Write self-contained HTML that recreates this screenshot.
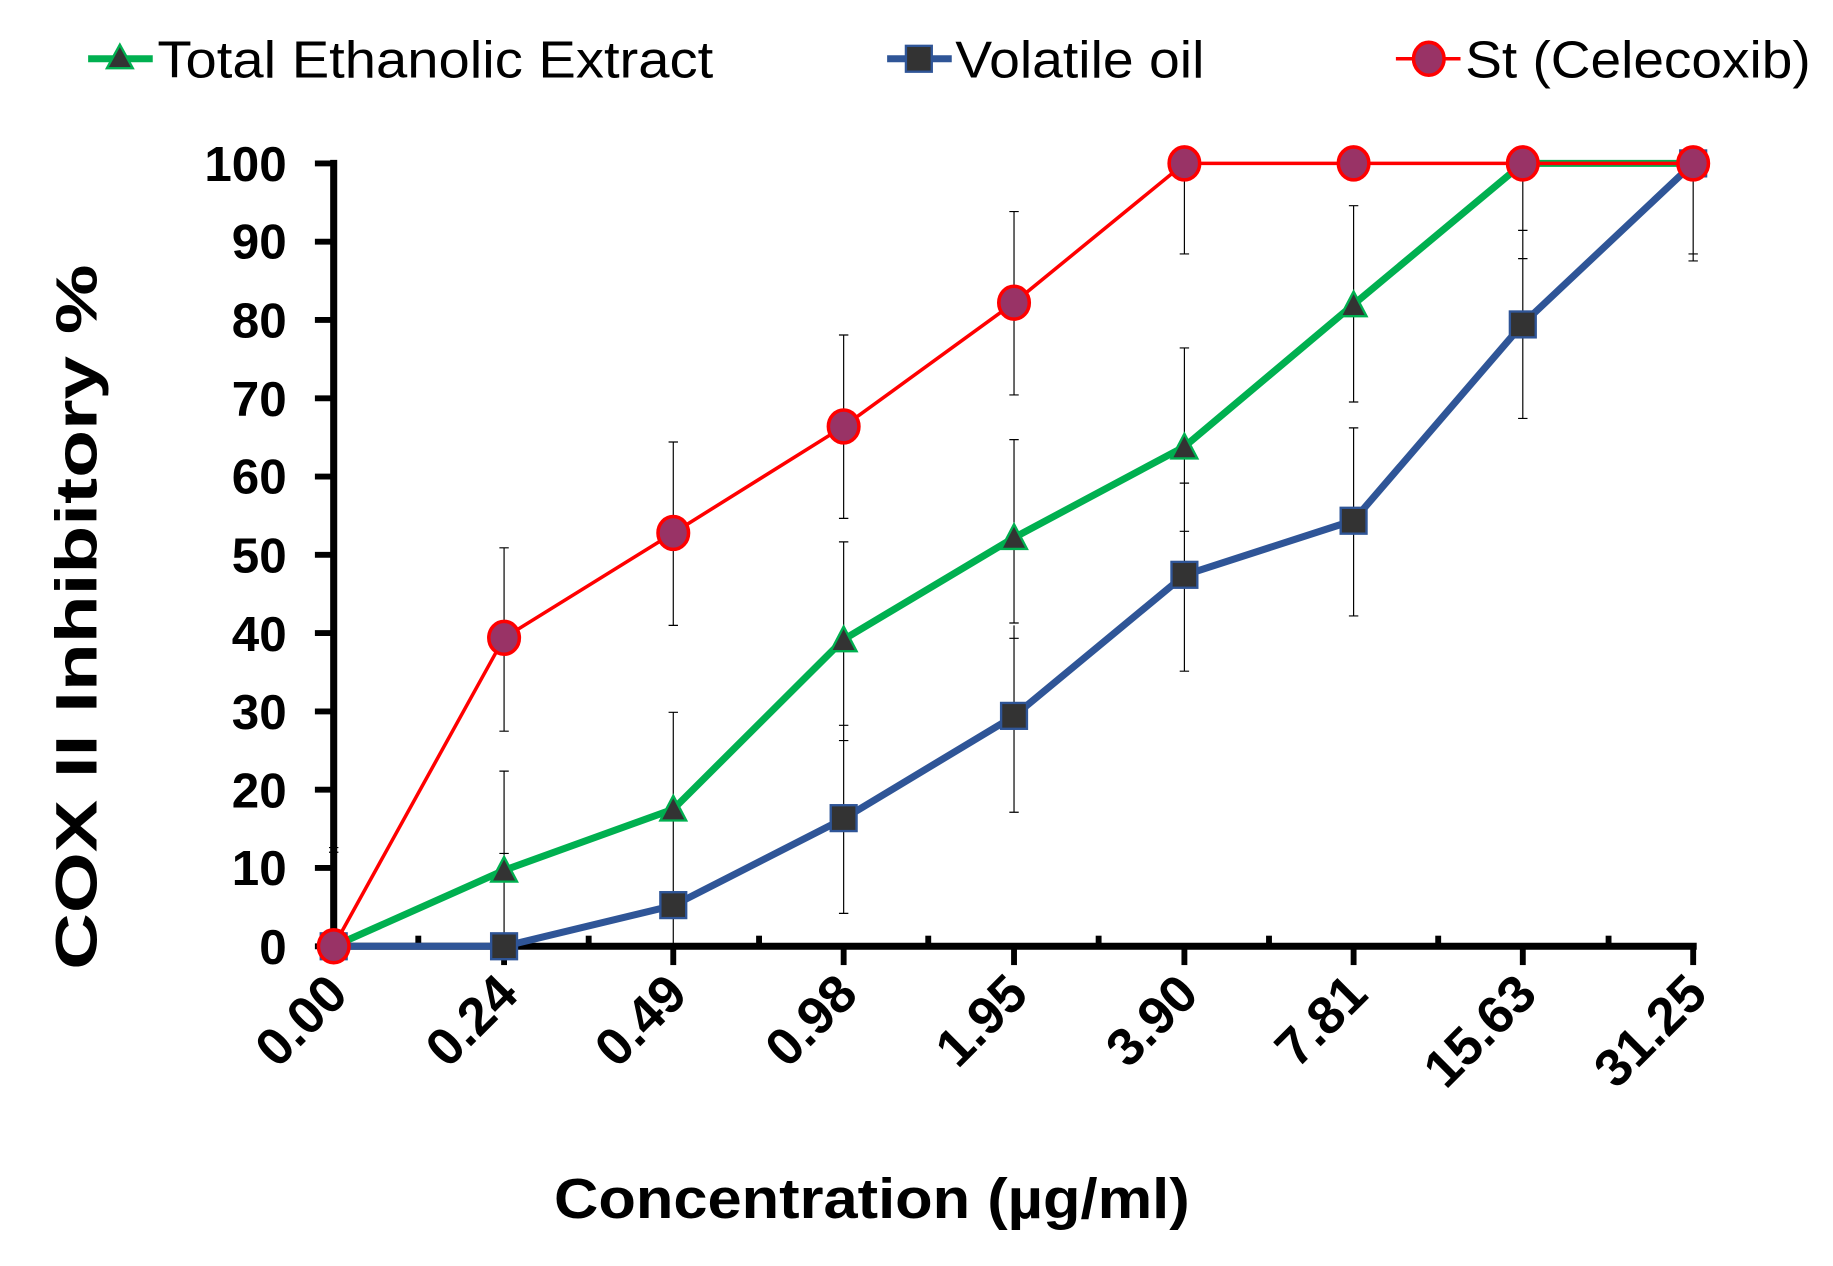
<!DOCTYPE html>
<html><head><meta charset="utf-8"><style>html,body{margin:0;padding:0;background:#fff}svg{display:block}</style></head>
<body>
<svg width="1833" height="1266" viewBox="0 0 1560 1077" preserveAspectRatio="none" xmlns="http://www.w3.org/2000/svg" font-family="Liberation Sans, Arial, sans-serif">
<rect width="1560" height="1077" fill="#fff"/>
<g font-size="44">
<line x1="75" y1="50" x2="130" y2="50" stroke="#00b050" stroke-width="6"/>
<polygon points="102,38 113,58 91,58" fill="#333" stroke="#00b050" stroke-width="2"/>
<text x="134" y="66" textLength="473" lengthAdjust="spacingAndGlyphs">Total Ethanolic Extract</text>
<line x1="755" y1="50" x2="810" y2="50" stroke="#2f5597" stroke-width="6"/>
<rect x="771" y="39" width="22" height="22" fill="#333" stroke="#2f5597" stroke-width="2"/>
<text x="813" y="66" textLength="212" lengthAdjust="spacingAndGlyphs">Volatile oil</text>
<line x1="1188" y1="50" x2="1243" y2="50" stroke="#ff0000" stroke-width="3"/>
<ellipse cx="1216" cy="50" rx="13" ry="14" fill="#993366" stroke="#ff0000" stroke-width="3"/>
<text x="1247" y="66" textLength="294" lengthAdjust="spacingAndGlyphs">St (Celecoxib)</text>
</g>
<g stroke="#000">
<line x1="284" y1="136" x2="284" y2="808" stroke-width="6"/>
<line x1="281" y1="805" x2="1444" y2="805" stroke-width="6"/>
<g stroke-width="5">
<line x1="268" y1="139" x2="284" y2="139"/><line x1="268" y1="205.6" x2="284" y2="205.6"/><line x1="268" y1="272.2" x2="284" y2="272.2"/><line x1="268" y1="338.8" x2="284" y2="338.8"/><line x1="268" y1="405.4" x2="284" y2="405.4"/><line x1="268" y1="472" x2="284" y2="472"/><line x1="268" y1="538.6" x2="284" y2="538.6"/><line x1="268" y1="605.2" x2="284" y2="605.2"/><line x1="268" y1="671.8" x2="284" y2="671.8"/><line x1="268" y1="738.4" x2="284" y2="738.4"/><line x1="268" y1="805" x2="284" y2="805"/>
<line x1="429" y1="805" x2="429" y2="821"/><line x1="573" y1="805" x2="573" y2="821"/><line x1="718" y1="805" x2="718" y2="821"/><line x1="863" y1="805" x2="863" y2="821"/><line x1="1008" y1="805" x2="1008" y2="821"/><line x1="1152" y1="805" x2="1152" y2="821"/><line x1="1296" y1="805" x2="1296" y2="821"/><line x1="1441" y1="805" x2="1441" y2="821"/>
<line x1="356" y1="796" x2="356" y2="805"/><line x1="501" y1="796" x2="501" y2="805"/><line x1="646" y1="796" x2="646" y2="805"/><line x1="790" y1="796" x2="790" y2="805"/><line x1="935" y1="796" x2="935" y2="805"/><line x1="1080" y1="796" x2="1080" y2="805"/><line x1="1224" y1="796" x2="1224" y2="805"/><line x1="1369" y1="796" x2="1369" y2="805"/>
</g>
</g>
<g font-size="42" font-weight="bold" text-anchor="end">
<text x="244" y="154">100</text><text x="244" y="220">90</text><text x="244" y="287">80</text><text x="244" y="354">70</text><text x="244" y="420">60</text><text x="244" y="487">50</text><text x="244" y="554">40</text><text x="244" y="620">30</text><text x="244" y="687">20</text><text x="244" y="753">10</text><text x="244" y="820">0</text>
</g>
<g font-size="45" font-weight="bold" text-anchor="end">
<text transform="translate(298,848) rotate(-45)">0.00</text>
<text transform="translate(443,848) rotate(-45)">0.24</text>
<text transform="translate(587,848) rotate(-45)">0.49</text>
<text transform="translate(732,848) rotate(-45)">0.98</text>
<text transform="translate(877,848) rotate(-45)">1.95</text>
<text transform="translate(1022,848) rotate(-45)">3.90</text>
<text transform="translate(1166,848) rotate(-45)">7.81</text>
<text transform="translate(1310,848) rotate(-45)">15.63</text>
<text transform="translate(1455,848) rotate(-45)">31.25</text>
</g>
<text x="742" y="1036" font-size="48" font-weight="bold" text-anchor="middle" textLength="541" lengthAdjust="spacingAndGlyphs">Concentration (µg/ml)</text>
<text transform="translate(82,525) rotate(-90)" font-size="50" font-weight="bold" text-anchor="middle" textLength="600" lengthAdjust="spacingAndGlyphs">COX II Inhibitory %</text>
<g stroke="#000" stroke-width="1">
<path d="M284,721V805M280,721H288M280,725H288
M429,466V622M425,466H433M425,622H433
M573,376V532M569,376H577M569,532H577
M718,285V441M714,285H722M714,441H722
M863,180V336M859,180H867M859,336H867
M1008,139V216M1004,216H1012
M429,656V812M425,656H433M425,726H433
M573,606V805M569,606H577
M718,461V617M714,461H722M714,617H722
M863,374V530M859,374H867M859,530H867
M1008,296V452M1004,296H1012M1004,452H1012
M1152,175V342M1148,175H1156M1148,342H1156
M1296,139V220M1292,220H1300
M718,616V777M714,630H722M714,777H722
M863,532V691M859,543H867M859,691H867
M1008,411V571M1004,411H1012M1004,571H1012
M1152,364V524M1148,364H1156M1148,524H1156
M1296,196V356M1292,196H1300M1292,356H1300
M1441,139V222M1437,216H1445M1437,222H1445"/>
</g>
<polyline fill="none" stroke="#00b050" stroke-width="6" points="284,805 429,740.4 573,688.4 718,544 863,457.4 1008,380 1152,259 1296,139 1441,139"/>
<polyline fill="none" stroke="#2f5597" stroke-width="6" points="284,805 429,805 573,770.4 718,696.4 863,609.2 1008,489.3 1152,442.7 1296,275.5 1441,139"/>
<polyline fill="none" stroke="#ff0000" stroke-width="3" points="284,805 429,542.6 573,453.4 718,362.8 863,257.5 1008,139 1152,139 1296,139 1441,139"/>
<g fill="#333" stroke="#00b050" stroke-width="2">
<polygon points="429,729 440,750 418,750"/><polygon points="573,677 584,698 562,698"/><polygon points="718,533 729,554 707,554"/><polygon points="863,446 874,467 852,467"/><polygon points="1008,369 1019,390 997,390"/><polygon points="1152,248 1163,269 1141,269"/>
</g>
<g fill="#333" stroke="#2f5597" stroke-width="2">
<rect x="273" y="794" width="22" height="22"/><rect x="418" y="794" width="22" height="22"/><rect x="562" y="759" width="22" height="22"/><rect x="707" y="685" width="22" height="22"/><rect x="852" y="598" width="22" height="22"/><rect x="997" y="478" width="22" height="22"/><rect x="1141" y="432" width="22" height="22"/><rect x="1285" y="265" width="22" height="22"/><rect x="1430" y="128" width="22" height="22"/>
</g>
<g fill="#993366" stroke="#ff0000" stroke-width="3">
<ellipse cx="284" cy="805" rx="13" ry="14"/><ellipse cx="429" cy="542.6" rx="13" ry="14"/><ellipse cx="573" cy="453.4" rx="13" ry="14"/><ellipse cx="718" cy="362.8" rx="13" ry="14"/><ellipse cx="863" cy="257.5" rx="13" ry="14"/><ellipse cx="1008" cy="139" rx="13" ry="14"/><ellipse cx="1152" cy="139" rx="13" ry="14"/><ellipse cx="1296" cy="139" rx="13" ry="14"/><ellipse cx="1441" cy="139" rx="13" ry="14"/>
</g>
</svg>
</body></html>
